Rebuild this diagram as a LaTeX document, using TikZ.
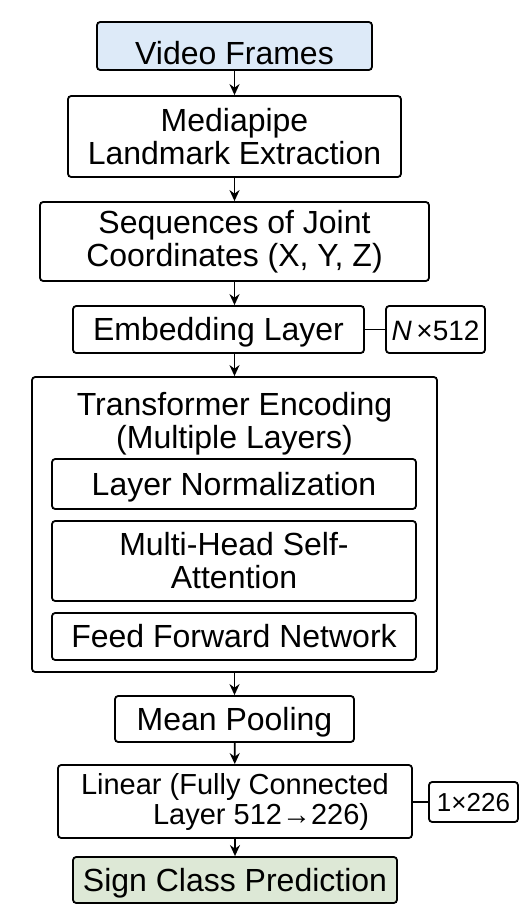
\documentclass[tikz,border=0pt]{standalone}
\usepackage{fontspec}
\setmainfont{Liberation Sans}
\usetikzlibrary{arrows.meta}
\definecolor{inblue}{HTML}{DDEAF8}
\definecolor{outgreen}{HTML}{DDE8D6}
\tikzset{
  blk/.style={draw, rounded corners=1.6pt, line width=0.9pt, align=center, inner sep=0pt, font=\fontsize{16}{16.5}\selectfont},
  oneline/.style={text height=11pt, text depth=0pt},
  dimbox/.style={blk, font=\fontsize{13}{14}\selectfont},
  arr/.style={-{Stealth[length=5.5pt,width=5pt]}, line width=0.85pt},
  link/.style={line width=0.8pt}
}

\begin{document}
\begin{tikzpicture}[x=0.5pt,y=-0.5pt]
  \useasboundingbox (0,0) rectangle (522,920);

  % main column
  \node[blk, fill=inblue, text height=19pt, text depth=0pt, minimum width=137.5pt, minimum height=24pt] (vid) at (234.5,46) {Video Frames};
  \node[blk, minimum width=166.5pt, minimum height=40.5pt] (mp) at (234.5,136.5) {Mediapipe\\Landmark Extraction};
  \node[blk, minimum width=194.5pt, minimum height=39.5pt] (seq) at (234.5,241.5) {Sequences of Joint\\Coordinates (X, Y, Z)};
  \node[blk, oneline, minimum width=145.5pt, minimum height=23.5pt] (emb) at (218.5,329.5) {Embedding Layer};
  \node[dimbox, oneline, font=\fontsize{14}{15}\selectfont, minimum width=49.5pt, minimum height=23.5pt] (nsz) at (435.5,329.5) {\textit{N}\,×512};

  % transformer block
  \node[blk, minimum width=202.5pt, minimum height=147.5pt] (trf) at (234.5,524.5) {};
  \node[font=\fontsize{16}{16.5}\selectfont, align=center, inner sep=0pt] (trftitle) at (234.5,424) {Transformer Encoding\\(Multiple Layers)};
  \node[blk, oneline, minimum width=182pt, minimum height=25pt] (ln) at (234,484) {Layer Normalization};
  \node[blk, minimum width=182pt, minimum height=40pt] (mha) at (234,561) {Multi-Head Self-\\Attention};
  \node[blk, oneline, minimum width=182pt, minimum height=23.5pt] (ffn) at (234,636.5) {Feed Forward Network};

  \node[blk, oneline, minimum width=119.5pt, minimum height=23pt] (pool) at (234.5,719) {Mean Pooling};
  \node[blk, font=\fontsize{14.5}{15}\selectfont, minimum width=177pt, minimum height=36.5pt] (lin) at (235,801.5) {Linear (Fully Connected\\\hspace*{1.8em}Layer 512→226)};
  \node[dimbox, oneline, text height=9.5pt, minimum width=44.5pt, minimum height=20pt] (osz) at (473.5,802) {1×226};
  \node[blk, oneline, fill=outgreen, minimum width=162pt, minimum height=23pt] (out) at (235,880) {Sign Class Prediction};

  % connectors
  \draw[arr] (vid) -- (mp);
  \draw[arr] (mp) -- (seq);
  \draw[arr] (seq.south) -- (seq.south |- emb.north);
  \draw[arr] (seq.south |- emb.south) -- (seq.south |- trf.north);
  \draw[arr] (trf.south) -- (pool.north);
  \draw[arr] (pool) -- (lin);
  \draw[arr] (lin) -- (out);
  \draw[link] (emb) -- (nsz);
  \draw[link] (lin.east |- osz) -- (osz);
\end{tikzpicture}
\end{document}
